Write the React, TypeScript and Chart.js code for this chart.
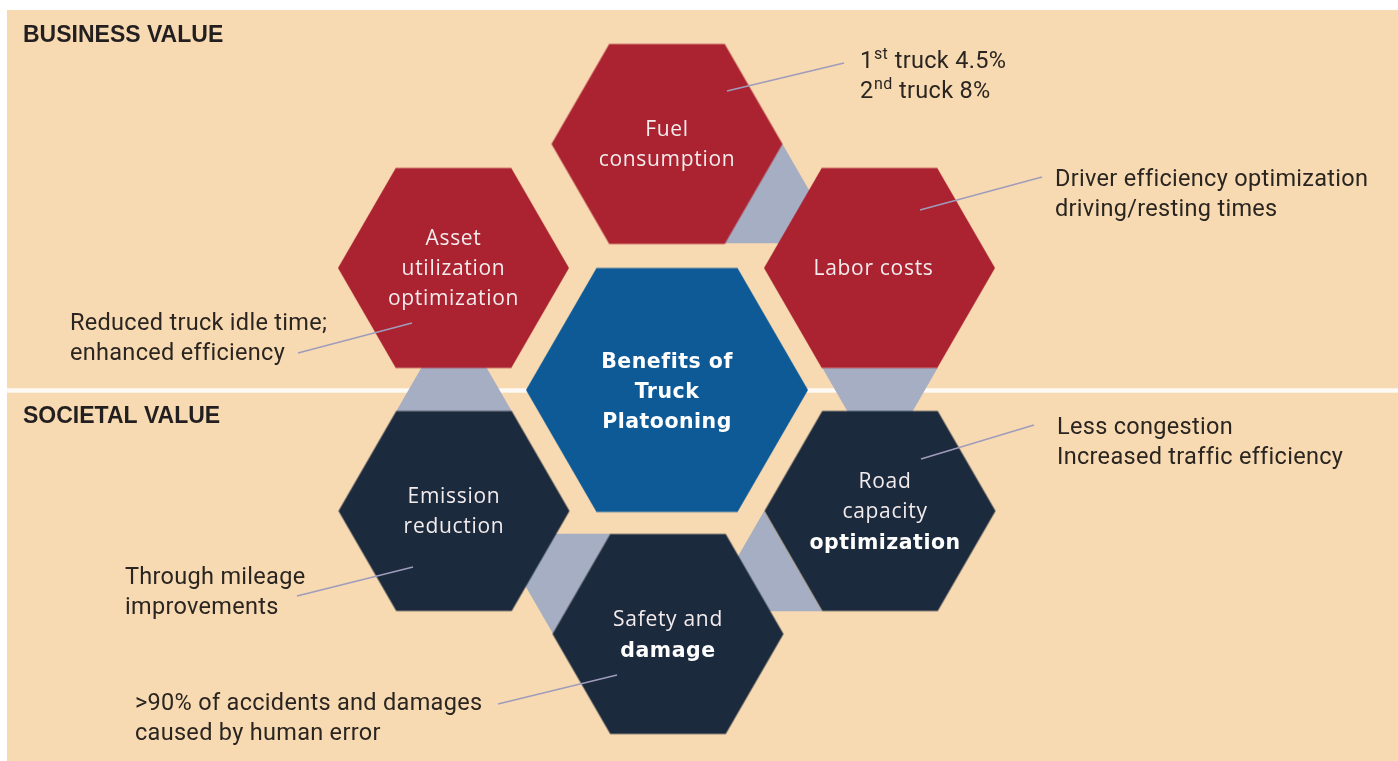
import React, { useEffect, useRef } from 'react';
import { Chart, registerables } from 'chart.js';

Chart.register(...registerables);

const CANVAS_W = 1398;
const CANVAS_H = 761;

// ---------------- data ----------------
const hexCenterX = [667, 453.5, 879.5, 667, 454, 880, 668];
const hexCenterY = [144, 268, 268, 390, 511, 511, 634];
const hexKinds = ['business', 'business', 'business', 'core', 'societal', 'societal', 'societal'];
const hexLabelLines = [
  ['Fuel', 'consumption'],
  ['Asset', 'utilization', 'optimization'],
  ['Labor costs'],
  ['Benefits of', 'Truck', 'Platooning'],
  ['Emission', 'reduction'],
  ['Road', 'capacity', 'optimization'],
  ['Safety and', 'damage'],
];
const hexLabelBold = [
  [false, false],
  [false, false, false],
  [false],
  [true, true, true],
  [false, false],
  [false, false, true],
  [false, true],
];

const linkX = [782, 880, 764, 553, 454];
const linkY = [210, 401, 578, 567, 378];
const linkRotation = [0, 180, 0, 180, 0];

const noteLines = [
  ['1^st truck 4.5%', '2^nd truck 8%'],
  ['Driver efficiency optimization', 'driving/resting times'],
  ['Reduced truck idle time;', 'enhanced efficiency'],
  ['Less congestion', 'Increased traffic efficiency'],
  ['Through mileage', 'improvements'],
  ['>90% of accidents and damages', 'caused by human error'],
];
const noteX = [860, 1055, 70, 1057, 125, 135];
const noteY = [68, 186, 330, 434, 584, 710];

const leaderStartX = [727, 920, 412, 921, 413, 617];
const leaderStartY = [91, 210, 323, 459, 567, 675];
const leaderEndX = [844, 1042, 298, 1034, 297, 498];
const leaderEndY = [63, 177, 353, 425, 596, 704];

const sectionTitles = ['BUSINESS VALUE', 'SOCIETAL VALUE'];
const sectionTitleX = [23, 23];
const sectionTitleY = [42, 423];

// ---------------- layout / styles ----------------
const LABEL_SHIFT_X = [0, 0, -6, 0, 0, 5, 0];
const HEX_COLOR: Record<string, string> = { business: '#ab2230', core: '#0e5a97', societal: '#1b2a3d' };
const HEX_R: Record<string, number> = { business: 115.5, core: 141, societal: 115.5 };
const LINK_COLOR = '#a5aec2';
const LEADER_COLOR = '#9f9cbc';
const PEACH = '#f7dab2';
const NOTE_COLOR = '#2a2520';
const PANEL_LEFT = 7;
const PANEL_TOP = 10;
const SEPARATOR_Y = 390.5;

function makeHex(R: number, color: string): HTMLCanvasElement {
  const h = Math.sqrt(3) * R;
  const c = document.createElement('canvas');
  c.width = Math.ceil(2 * R + 2);
  c.height = Math.ceil(h + 2);
  const g = c.getContext('2d')!;
  const cx = c.width / 2;
  const cy = c.height / 2;
  g.beginPath();
  for (let i = 0; i < 6; i++) {
    const a = (Math.PI / 3) * i;
    const px = cx + R * Math.cos(a);
    const py = cy + R * Math.sin(a);
    if (i === 0) g.moveTo(px, py);
    else g.lineTo(px, py);
  }
  g.closePath();
  g.fillStyle = color;
  g.fill();
  return c;
}

function drawRich(ctx: CanvasRenderingContext2D, text: string, x: number, y: number, font: string, supFont: string) {
  const parts = text.split(/(\^\w+)/).filter((p) => p.length > 0);
  let cx = x;
  for (const p of parts) {
    if (p.startsWith('^')) {
      const t = p.slice(1);
      ctx.font = supFont;
      ctx.fillText(t, cx + 0.5, y - 9);
      cx += ctx.measureText(t).width + 1;
    } else {
      ctx.font = font;
      ctx.fillText(p, cx, y);
      cx += ctx.measureText(p).width;
    }
  }
}

const backgroundPlugin = {
  id: 'infographicBackground',
  beforeDraw(chart: any) {
    const { ctx } = chart;
    const xs = chart.scales.x;
    const ys = chart.scales.y;
    ctx.save();
    ctx.fillStyle = '#ffffff';
    ctx.fillRect(0, 0, chart.width, chart.height);
    const x0 = xs.getPixelForValue(PANEL_LEFT);
    const y0 = ys.getPixelForValue(PANEL_TOP);
    ctx.fillStyle = PEACH;
    ctx.fillRect(x0, y0, chart.width - x0, chart.height - y0);
    const sy = ys.getPixelForValue(SEPARATOR_Y);
    ctx.fillStyle = '#fdfaf5';
    ctx.fillRect(x0, sy - 2.2, chart.width - x0, 4.4);
    ctx.fillStyle = '#231f20';
    ctx.textAlign = 'left';
    ctx.textBaseline = 'alphabetic';
    ctx.font = 'bold 23px "Liberation Sans", Arial, sans-serif';
    sectionTitles.forEach((t, i) => {
      ctx.fillText(t, xs.getPixelForValue(sectionTitleX[i]), ys.getPixelForValue(sectionTitleY[i]));
    });
    ctx.restore();
  },
};

const labelPlugin = {
  id: 'infographicLabels',
  afterDatasetsDraw(chart: any) {
    const { ctx } = chart;
    const xs = chart.scales.x;
    const ys = chart.scales.y;
    const meta = chart.getDatasetMeta(0);
    ctx.save();
    ctx.textAlign = 'center';
    ctx.textBaseline = 'middle';
    meta.data.forEach((el: any, i: number) => {
      const lines = hexLabelLines[i];
      const n = lines.length;
      lines.forEach((line, j) => {
        const bold = hexLabelBold[i][j];
        let yy = el.y - (n - 1) * 15 + j * 30 + 1;
        if (bold) {
          ctx.font = 'bold 20.5px "DejaVu Sans", sans-serif';
          ctx.fillStyle = '#ffffff';
          (ctx as any).letterSpacing = '0.5px';
          yy += 1.5;
        } else {
          ctx.font = '21px "Open Sans", "Noto Sans", sans-serif';
          ctx.fillStyle = '#f3eced';
          (ctx as any).letterSpacing = '0.7px';
        }
        ctx.fillText(line, el.x + LABEL_SHIFT_X[i], yy);
      });
    });
    (ctx as any).letterSpacing = '0.3px';
    ctx.textAlign = 'left';
    ctx.textBaseline = 'alphabetic';
    ctx.fillStyle = NOTE_COLOR;
    noteLines.forEach((lines, i) => {
      lines.forEach((line, j) => {
        drawRich(
          ctx,
          line,
          xs.getPixelForValue(noteX[i]),
          ys.getPixelForValue(noteY[i] + j * 29.5),
          '23.5px Roboto, "Liberation Sans", sans-serif',
          '16px Roboto, "Liberation Sans", sans-serif'
        );
      });
    });
    ctx.restore();
  },
};

export default function App() {
  const canvasRef = useRef<HTMLCanvasElement | null>(null);

  useEffect(() => {
    const canvas = canvasRef.current;
    if (!canvas) return;
    const hexStyles = hexKinds.map((k) => makeHex(HEX_R[k], HEX_COLOR[k]));

    const datasets: any[] = [
      {
        label: 'benefits',
        data: hexCenterX.map((x, i) => ({ x, y: hexCenterY[i] })),
        pointStyle: hexStyles,
        pointRadius: hexKinds.map((k) => HEX_R[k]),
        pointHoverRadius: hexKinds.map((k) => HEX_R[k]),
        showLine: false,
        order: 2,
        clip: false,
      },
      {
        label: 'links',
        data: linkX.map((x, i) => ({ x, y: linkY[i] })),
        pointStyle: 'triangle',
        pointRadius: 115.5 / Math.sqrt(3),
        pointHoverRadius: 115.5 / Math.sqrt(3),
        pointRotation: linkRotation,
        backgroundColor: LINK_COLOR,
        borderWidth: 0,
        pointBorderWidth: 0,
        showLine: false,
        order: 3,
        clip: false,
      },
    ];
    leaderStartX.forEach((sx, i) => {
      datasets.push({
        label: 'leader' + i,
        data: [
          { x: sx, y: leaderStartY[i] },
          { x: leaderEndX[i], y: leaderEndY[i] },
        ],
        showLine: true,
        borderColor: LEADER_COLOR,
        borderWidth: 1.6,
        pointRadius: 0,
        pointHoverRadius: 0,
        fill: false,
        order: 1,
        clip: false,
      });
    });

    const chart = new Chart(canvas, {
      type: 'scatter',
      data: { datasets },
      options: {
        animation: false,
        responsive: false,
        maintainAspectRatio: false,
        devicePixelRatio: 1,
        layout: { padding: 0, autoPadding: false },
        events: [],
        plugins: {
          legend: { display: false },
          tooltip: { enabled: false },
          title: { display: false },
        },
        scales: {
          x: { type: 'linear', min: 0, max: CANVAS_W, display: false },
          y: { type: 'linear', min: 0, max: CANVAS_H, reverse: true, display: false },
        },
      },
      plugins: [backgroundPlugin, labelPlugin],
    });
    return () => chart.destroy();
  }, []);

  return (
    <div style={{ position: 'fixed', left: 0, top: 0, width: CANVAS_W, height: CANVAS_H, background: '#fff' }}>
      <canvas ref={canvasRef} width={CANVAS_W} height={CANVAS_H} style={{ display: 'block', width: CANVAS_W, height: CANVAS_H }} />
    </div>
  );
}
